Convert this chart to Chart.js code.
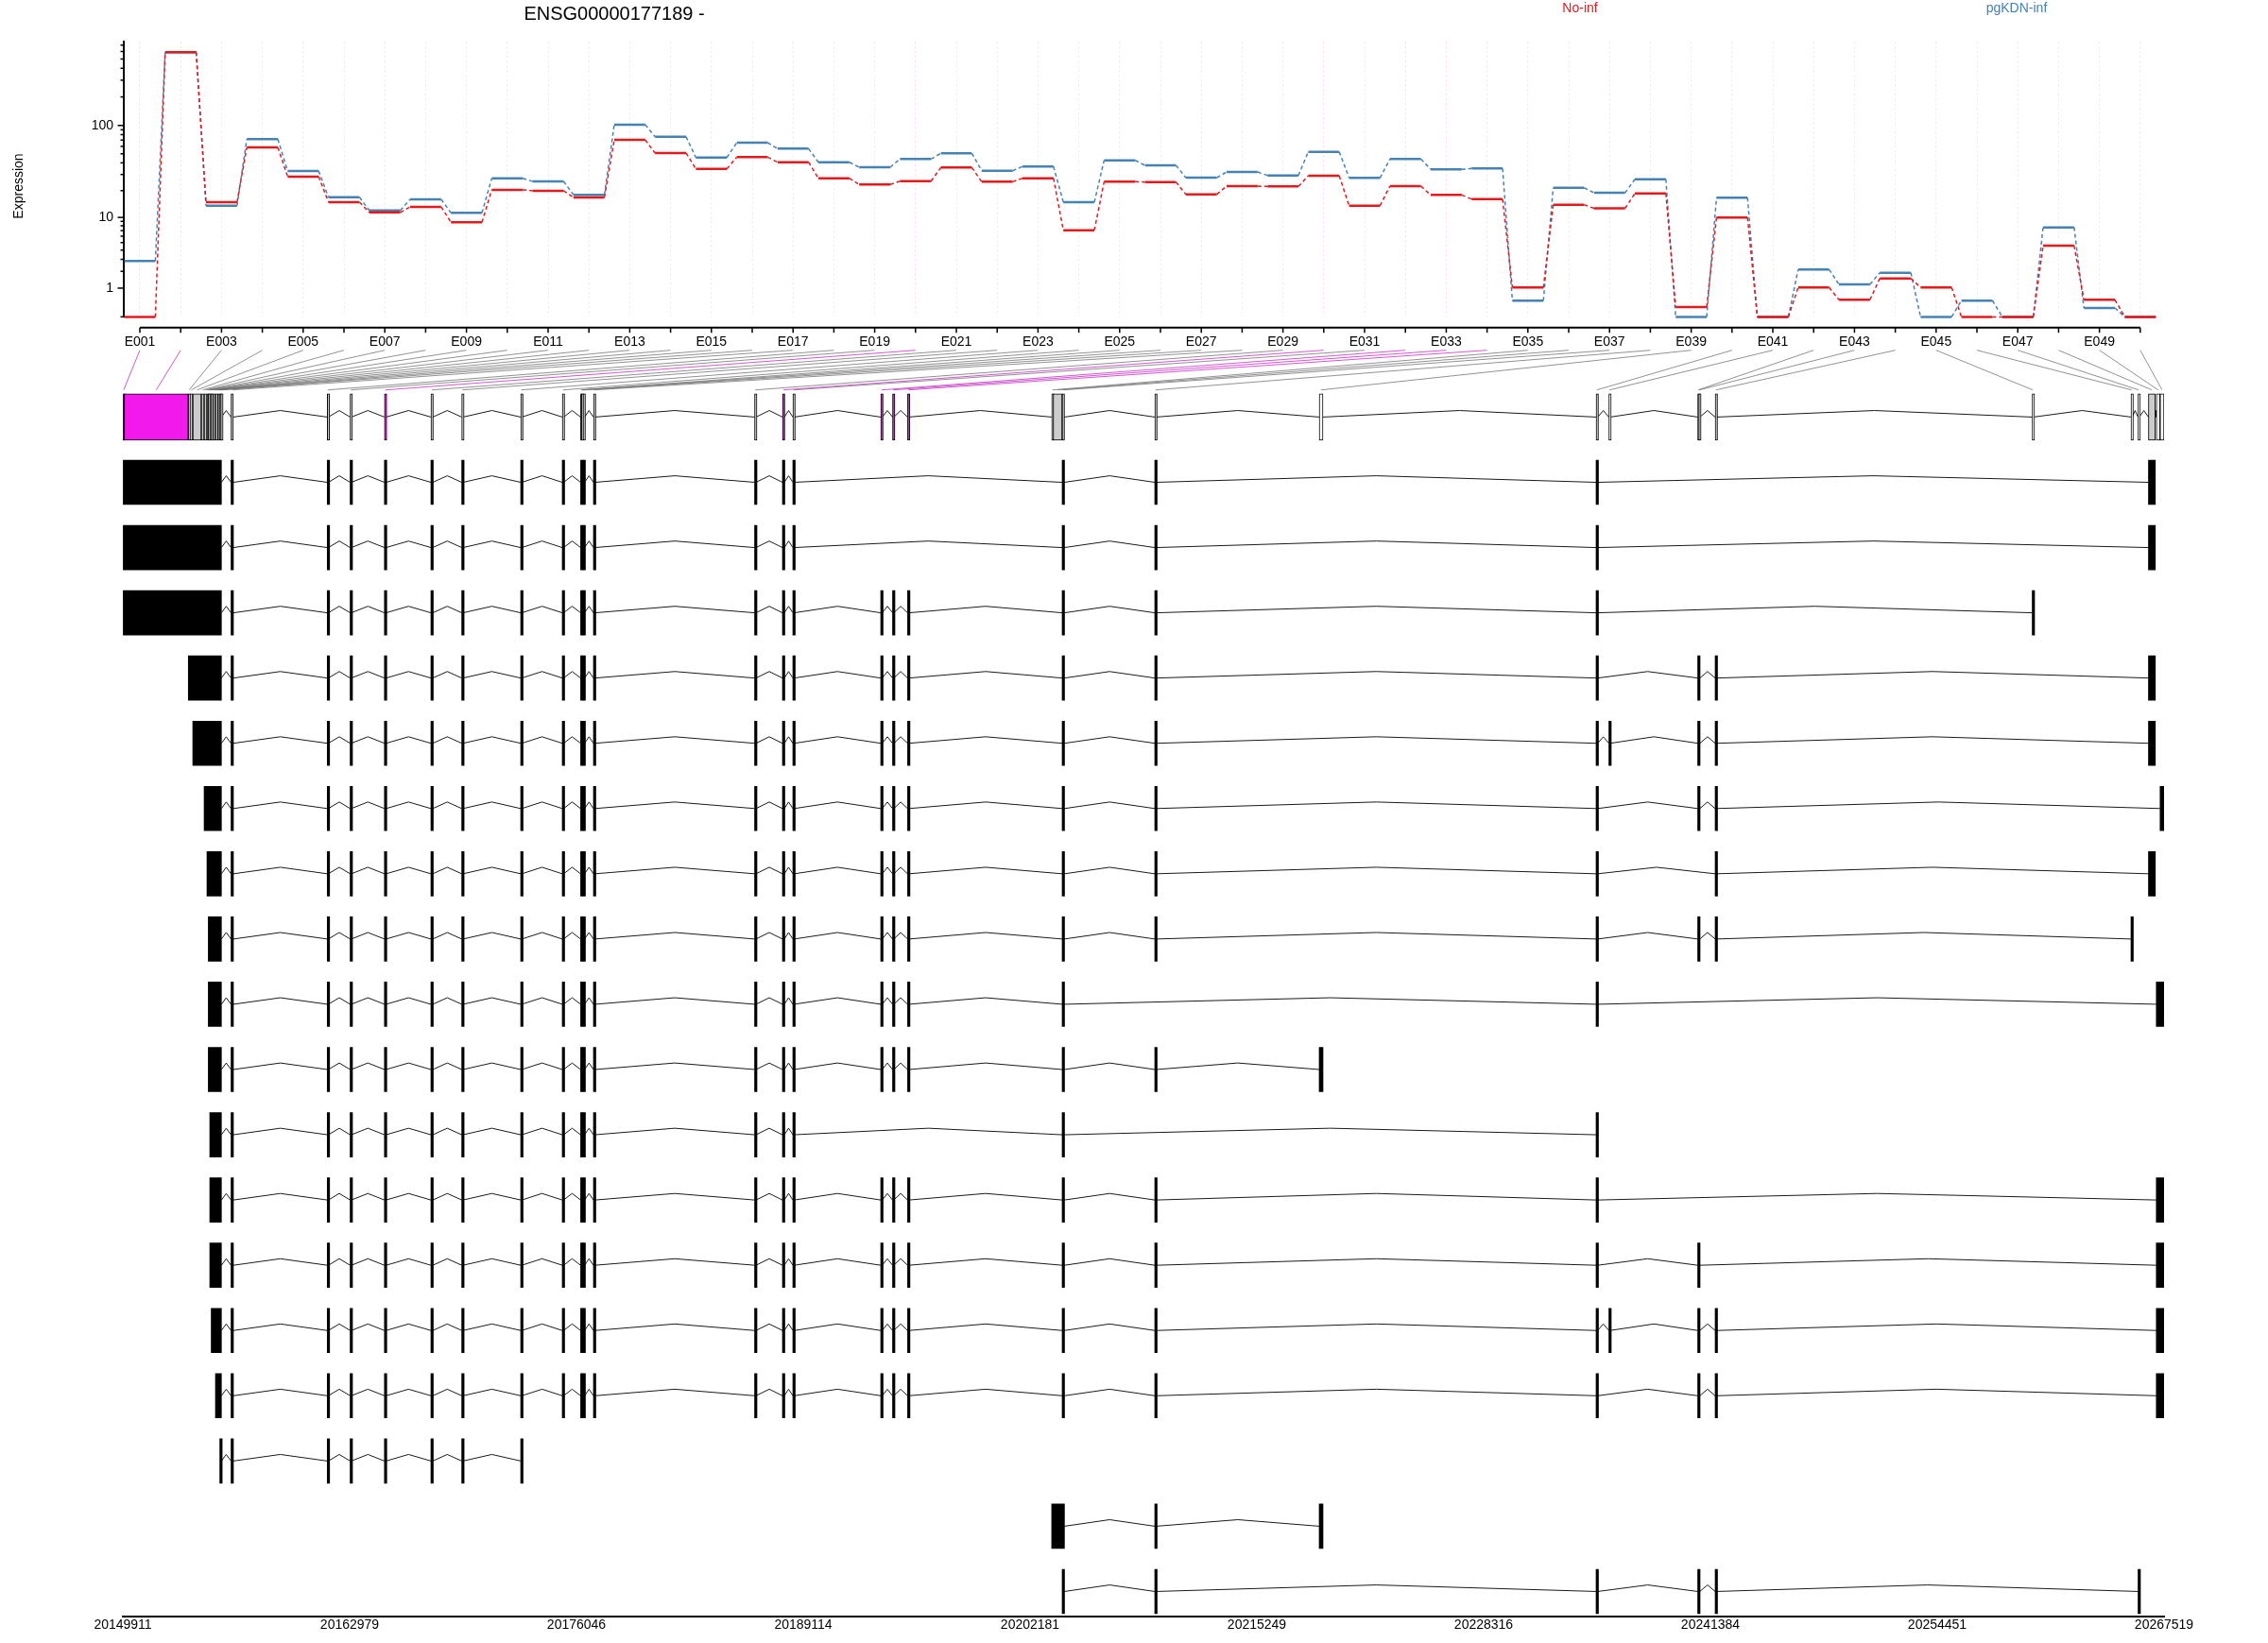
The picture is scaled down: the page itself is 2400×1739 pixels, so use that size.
<!DOCTYPE html>
<html><head><meta charset="utf-8">
<script src="https://cdn.jsdelivr.net/npm/chart.js@4/dist/chart.umd.min.js"></script>
<style>
html,body{margin:0;padding:0;background:#fff;}
#wrap{position:relative;width:2400px;height:1739px;overflow:hidden;}
canvas{position:absolute;left:0;top:0;}
</style></head><body>
<div id="wrap">
<canvas id="top" width="2400" height="400" style="width:2400px;height:400px"></canvas>
<canvas id="bot" width="2400" height="1739" style="width:2400px;height:1739px"></canvas>
</div>
<script>
// ---------------- data ----------------
const geneId = 'ENSG00000177189';
const strand = '-';
const conditions = ['No-inf', 'pgKDN-inf'];
const exonIds = ['E001','E002','E003','E004','E005','E006','E007','E008','E009','E010',
  'E011','E012','E013','E014','E015','E016','E017','E018','E019','E020',
  'E021','E022','E023','E024','E025','E026','E027','E028','E029','E030',
  'E031','E032','E033','E034','E035','E036','E037','E038','E039','E040',
  'E041','E042','E043','E044','E045','E046','E047','E048','E049','E050'];
const noInf = [0,590,14.9,58.5,28.4,14.9,11.4,13.2,8.8,20.4,19.9,16.8,70.3,50.9,34.5,46,40.6,27.3,23.3,25.4,
  35.6,25,27.3,7.07,25,24.8,18.2,22.4,22.2,29,13.6,22.4,17.9,16.1,1.03,13.9,12.7,18.6,0.27,9.96,
  0,1.03,0.51,1.53,1.03,0,0,4.57,0.51,0];
const pgKDN = [2.84,590,13.6,71.5,32.7,16.9,12.0,16.0,11.3,27.2,25.2,18.0,101.8,75.9,45.6,65.7,56.7,40.6,35.9,44,
  50.6,32.9,36.5,14.9,42.6,37.6,27.7,31.9,29.3,52.5,27.5,44,34,34.8,0.48,21.5,18.9,26.6,0,16.7,
  0,2.13,1.19,1.90,0,0.48,0,7.65,0.24,0];
const exonStart = [20149933,20149987,20153684,20153777,20153940,20154430,20154594,20154757,20154833,20154920,
  20155002,20155111,20155247,20155394,20155497,20155552,20156145,20161688,20163006,20164982,
  20167661,20169436,20172834,20175229,20176286,20176340,20176427,20177026,20186310,20187916,
  20188515,20193578,20194259,20195125,20203428,20203515,20204032,20209368,20218842,20234795,
  20235531,20240649,20240709,20241656,20259923,20265613,20266021,20266620,20267072,20267290];
const exonEnd = [20149987,20153684,20153777,20153940,20154430,20154594,20154757,20154833,20154920,20155002,
  20155111,20155247,20155394,20155497,20155552,20155590,20156281,20161753,20163077,20165080,
  20167770,20169512,20172899,20175306,20176340,20176384,20176514,20177113,20186391,20188025,
  20188596,20193665,20194330,20195212,20203515,20204032,20204163,20209455,20219060,20234888,
  20235601,20240709,20240774,20241738,20259989,20265684,20266092,20267018,20267290,20267519];
// s = significant, n = tested, u = not tested
const exonStatus = ['s','s','n','n','n','n','n','n','n','n','n','n','n','n','n','n','n','n','n','s',
  'n','n','n','n','n','n','n','n','n','s','n','s','s','s','u','n','n','n','u','n',
  'u','n','n','n','u','u','u','n','u','u'];
// transcripts: each exon is an exonic part number or a [first,last] range of parts
const transcripts = [
  [[1,16],17,18,19,20,21,22,23,24,[25,26],27,28,29,30,31,37,38,40,48],
  [[1,16],17,18,19,20,21,22,23,24,[25,26],27,28,29,30,31,37,38,40,48],
  [[1,16],17,18,19,20,21,22,23,24,[25,26],27,28,29,30,31,32,33,34,37,38,40,45],
  [[3,16],17,18,19,20,21,22,23,24,[25,26],27,28,29,30,31,32,33,34,37,38,40,[42,43],44,48],
  [[5,16],17,18,19,20,21,22,23,24,[25,26],27,28,29,30,31,32,33,34,37,38,40,41,[42,43],44,48],
  [[7,16],17,18,19,20,21,22,23,24,[25,26],27,28,29,30,31,32,33,34,37,38,40,[42,43],44,50],
  [[8,16],17,18,19,20,21,22,23,24,[25,26],27,28,29,30,31,32,33,34,37,38,40,44,48],
  [[9,16],17,18,19,20,21,22,23,24,[25,26],27,28,29,30,31,32,33,34,37,38,40,[42,43],44,46],
  [[9,16],17,18,19,20,21,22,23,24,[25,26],27,28,29,30,31,32,33,34,37,40,[49,50]],
  [[9,16],17,18,19,20,21,22,23,24,[25,26],27,28,29,30,31,32,33,34,37,38,39],
  [[10,16],17,18,19,20,21,22,23,24,[25,26],27,28,29,30,31,37,40],
  [[10,16],17,18,19,20,21,22,23,24,[25,26],27,28,29,30,31,32,33,34,37,38,40,[49,50]],
  [[10,16],17,18,19,20,21,22,23,24,[25,26],27,28,29,30,31,32,33,34,37,38,40,[42,43],[49,50]],
  [[11,16],17,18,19,20,21,22,23,24,[25,26],27,28,29,30,31,32,33,34,37,38,40,41,[42,43],44,[49,50]],
  [[13,16],17,18,19,20,21,22,23,24,[25,26],27,28,29,30,31,32,33,34,37,38,40,[42,43],44,[49,50]],
  [[15,16],17,18,19,20,21,22,23],
  [[35,37],38,39],
  [37,38,40,[42,43],44,47]
];
const genomicTicks = [20149911,20162979,20176046,20189114,20202181,20215249,20228316,20241384,20254451,20267519];
const yMajor = [1, 10, 100];
const yMinor = [0,2,3,4,5,6,7,8,9,20,30,40,50,60,70,80,90,200,300,400,500,600,700];
const yTop = 757;

// ---------------- styles ----------------
const FONT = '"Liberation Sans", Arial, Helvetica, sans-serif';
Chart.defaults.font.family = FONT;
Chart.defaults.font.size = 14;
Chart.defaults.color = '#000';
const RED = '#E31A1C', BLUE = '#4682B4';
const MAG = '#F219ED';
const statusFill = {s: MAG, n: '#CCCCCC', u: '#FFFFFF'};
const HALF = 0.38;          // half width of an exon step
const PEAK = 0.1;           // intron apex height (row units)

const tf = v => Math.log10(v + 1);
const steps = vals => vals.flatMap((v, i) => [{x: i + 1 - HALF, y: tf(v)}, {x: i + 1 + HALF, y: tf(v)}]);
const isGap = c => c.p0DataIndex % 2 === 1;

// ---------------- top chart ----------------
const topDecor = {
  id: 'topDecor',
  afterDraw(chart) {
    const {ctx, chartArea, scales: {x, y}} = chart;
    ctx.save();
    ctx.strokeStyle = '#000';
    const ay = chartArea.bottom + 11.3;
    ctx.lineWidth = 2;
    ctx.beginPath();
    ctx.moveTo(x.getPixelForValue(1), ay);
    ctx.lineTo(x.getPixelForValue(exonIds.length), ay);
    ctx.stroke();
    ctx.lineWidth = 1.5;
    exonIds.forEach((_, i) => {
      const px = x.getPixelForValue(i + 1);
      ctx.beginPath(); ctx.moveTo(px, ay); ctx.lineTo(px, ay + 5.5); ctx.stroke();
    });
    const L = chartArea.left;
    yMinor.forEach(v => {
      const py = y.getPixelForValue(tf(v));
      ctx.beginPath(); ctx.moveTo(L - 3.5, py); ctx.lineTo(L, py); ctx.stroke();
    });
    yMajor.forEach(v => {
      const py = y.getPixelForValue(tf(v));
      ctx.beginPath(); ctx.moveTo(L - 6.5, py); ctx.lineTo(L, py); ctx.stroke();
    });
    ctx.textAlign = 'center';
    ctx.textBaseline = 'middle';
    ctx.fillStyle = '#000';
    ctx.font = '20px ' + FONT;
    ctx.fillText(geneId + ' ' + strand, 650, 15);
    ctx.font = '14px ' + FONT;
    ctx.fillStyle = RED;
    ctx.fillText(conditions[0], 1672, 9);
    ctx.fillStyle = BLUE;
    ctx.fillText(conditions[1], 2134, 9);
    ctx.fillStyle = '#000';
    ctx.translate(20, 197);
    ctx.rotate(-Math.PI / 2);
    ctx.fillText('Expression', 0, 0);
    ctx.restore();
  }
};

const mkSeries = (label, vals, color) => ({
  label, data: steps(vals), borderColor: color, borderWidth: 2.5, pointRadius: 0,
  fill: false, tension: 0, clip: 5,
  segment: {borderDash: c => isGap(c) ? [4, 3] : [], borderWidth: c => isGap(c) ? 1.5 : 2.5}
});

const topChart = new Chart(document.getElementById('top'), {
  type: 'line',
  data: {datasets: [mkSeries(conditions[0], noInf, RED), mkSeries(conditions[1], pgKDN, BLUE)]},
  options: {
    responsive: false, animation: false, events: [],
    layout: {padding: {top: 44.3, left: 0, right: 117.9, bottom: 0}},
    plugins: {legend: {display: false}, tooltip: {enabled: false}, title: {display: false}},
    scales: {
      x: {
        type: 'linear', min: 0.6065, max: 50.4, offset: false,
        afterBuildTicks: s => { s.ticks = exonIds.map((_, i) => ({value: i + 1})); },
        afterFit: s => { s.height = 64.6; },
        ticks: {autoSkip: false, maxRotation: 0, minRotation: 0, padding: 18, color: '#000', font: {size: 14},
          callback: v => { const i = Math.round(v) - 1; return i % 2 === 0 ? exonIds[i] : ''; }},
        grid: {drawTicks: false, lineWidth: 1, offset: false,
          color: c => (c.tick && exonStatus[Math.round(c.tick.value) - 1] === 's') ? 'rgba(242,25,237,0.18)' : 'rgba(170,170,170,0.25)'},
        border: {display: false, dash: [2, 3]}
      },
      y: {
        type: 'linear', min: 0, max: tf(yTop),
        afterBuildTicks: s => { s.ticks = yMinor.concat(yMajor).map(tf).sort((a, b) => a - b).map(v => ({value: v})); },
        afterFit: s => { s.width = 131; },
        ticks: {autoSkip: false, padding: 11, color: '#000', font: {size: 14},
          callback: v => { const m = yMajor.find(t => Math.abs(tf(t) - v) < 1e-9); return m === undefined ? '' : String(m); }},
        grid: {drawOnChartArea: false, drawTicks: false},
        border: {display: true, color: '#000', width: 2}
      }
    }
  },
  plugins: [topDecor]
});

// ---------------- bottom chart (gene model + transcripts) ----------------
const partInterval = p => Array.isArray(p) ? [exonStart[p[0] - 1], exonEnd[p[1] - 1]] : [exonStart[p - 1], exonEnd[p - 1]];
const intronPts = [];
function addIntrons(intervals, row) {
  for (let k = 0; k + 1 < intervals.length; k++) {
    const a = intervals[k][1], b = intervals[k + 1][0];
    if (b <= a) continue;
    intronPts.push({x: a, y: row}, {x: (a + b) / 2, y: row - PEAK}, {x: b, y: row}, {x: b, y: null});
  }
}
const geneIntervals = [];
exonStart.forEach((s, i) => {
  const last = geneIntervals[geneIntervals.length - 1];
  if (last && s <= last[1]) last[1] = Math.max(last[1], exonEnd[i]);
  else geneIntervals.push([s, exonEnd[i]]);
});
addIntrons(geneIntervals, 0);
const geneParts = exonStart.map((s, i) => ({x: [s, exonEnd[i]], y: 0}));
const txExons = [];
transcripts.forEach((t, ti) => {
  const iv = t.map(partInterval);
  iv.forEach(r => txExons.push({x: r, y: ti + 1}));
  addIntrons(iv, ti + 1);
});

const connectors = {
  id: 'connectors',
  afterDraw(chart) {
    const {ctx, scales: {x, y}} = chart;
    const tx = topChart.scales.x;
    const y0 = topChart.chartArea.bottom + 35.3;
    const y1 = y.getPixelForValue(0) - 28.7;
    ctx.save();
    ctx.lineWidth = 1;
    ['n', 's'].forEach(pass => {
      exonIds.forEach((_, i) => {
        const sig = exonStatus[i] === 's';
        if ((pass === 's') !== sig) return;
        ctx.strokeStyle = sig ? 'rgba(200,60,200,0.85)' : 'rgba(110,110,110,0.75)';
        ctx.beginPath();
        ctx.moveTo(tx.getPixelForValue(i + 1), y0);
        ctx.lineTo(x.getPixelForValue((exonStart[i] + exonEnd[i]) / 2), y1);
        ctx.stroke();
      });
    });
    ctx.restore();
  }
};

const botChart = new Chart(document.getElementById('bot'), {
  type: 'scatter',
  data: {datasets: [
    {type: 'line', data: intronPts, borderColor: '#1a1a1a', borderWidth: 1, pointRadius: 0,
      spanGaps: false, tension: 0, fill: false, order: 3},
    {type: 'bar', indexAxis: 'y', data: geneParts, backgroundColor: exonStatus.map(s => statusFill[s]),
      borderColor: '#000', borderWidth: 1, borderSkipped: false, barThickness: 49, minBarLength: 2.5,
      grouped: false, order: 1},
    {type: 'bar', indexAxis: 'y', data: txExons, backgroundColor: '#000', borderWidth: 0,
      barThickness: 47, minBarLength: 2.5, grouped: false, order: 2}
  ]},
  options: {
    responsive: false, animation: false, events: [],
    layout: {padding: {top: 400, left: 130, right: 110, bottom: 0}},
    plugins: {legend: {display: false}, tooltip: {enabled: false}, title: {display: false}},
    scales: {
      x: {
        type: 'linear', position: 'bottom', offset: false, beginAtZero: false,
        min: genomicTicks[0], max: genomicTicks[genomicTicks.length - 1],
        afterBuildTicks: s => { s.ticks = genomicTicks.map(v => ({value: v})); },
        afterFit: s => { s.height = 28.3; },
        ticks: {autoSkip: false, maxRotation: 0, padding: 1, color: '#000', font: {size: 14},
          callback: v => String(v)},
        grid: {display: false, drawTicks: false, offset: false},
        border: {display: true, color: '#000', width: 2}
      },
      y: {type: 'linear', reverse: true, offset: false, beginAtZero: false, min: -0.6, max: 18.38, display: false,
        grid: {offset: false}}
    }
  },
  plugins: [connectors]
});
</script>
</body></html>
